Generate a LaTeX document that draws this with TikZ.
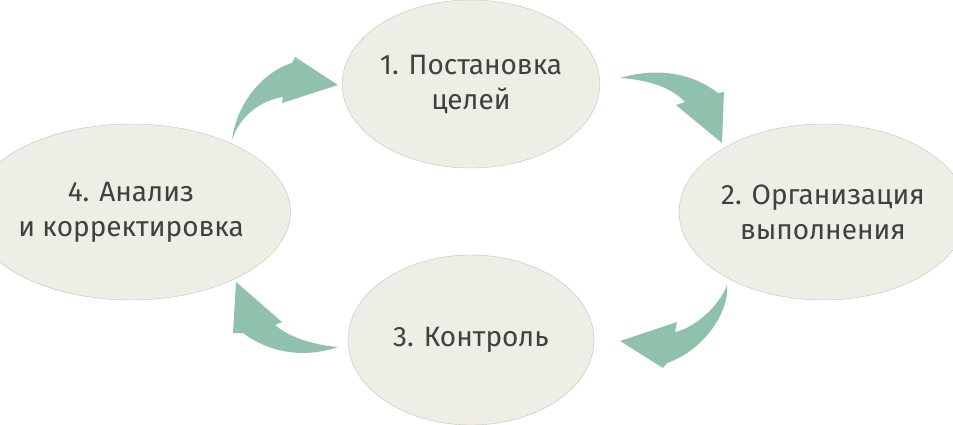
\documentclass[tikz,border=0pt]{standalone}
\usepackage{fontspec}
\setmainfont{Fira Sans}
\usetikzlibrary{shapes.geometric}
\definecolor{stagefill}{HTML}{EEEDE6}
\definecolor{stageline}{HTML}{C4C2BA}
\definecolor{arrowgreen}{HTML}{8FC1AD}
\tikzset{stage/.style={
		% The shape:
		ellipse,
		% The border:
		draw=stageline, fill=stagefill, thin,
		% The text:
		text=black!75, align=center, font=\fontsize{28}{35}\selectfont,
		inner sep=0pt,
}}
\tikzset{blockarrow/.style={fill=arrowgreen, draw=none}}

\begin{document}
\begin{tikzpicture}[x=1pt,y=-1pt]
	\useasboundingbox (0,0) rectangle (953,424);
	
	%% stages
	\node (goals) [stage,minimum width=246,minimum height=168] at (471,84) {1. Постановка\\целей};
	\node (org) [stage,minimum width=260,minimum height=176] at (823,212) {2. Организация\\выполнения};
	\node (ctrl) [stage,minimum width=246,minimum height=170] at (471,340) {3. Контроль};
	\node (anal) [stage,minimum width=262,minimum height=176] at (131,212) {4. Анализ\\и корректировка};
	
	%% arrows between stages
	\fill[blockarrow] (620,78) .. controls (660,66) and (695,75) .. (718,93) -- (724,92)
		-- (722,143) -- (676,105) -- (685,102) .. controls (672,88) and (650,80) .. (620,78) -- cycle;
	\fill[blockarrow] (727,285) .. controls (730,310) and (705,350) .. (667,363) -- (663,368)
		-- (620,341) -- (677,322) -- (675,332) .. controls (695,328) and (720,305) .. (727,285) -- cycle;
	\fill[blockarrow] (338,347) .. controls (300,360) and (265,350) .. (243,333) -- (233,333)
		-- (236,282) -- (282,322) -- (275,325) .. controls (290,338) and (315,345) .. (338,347) -- cycle;
	\fill[blockarrow] (232,140) .. controls (236,105) and (262,72) .. (292,63) -- (295,57)
		-- (338,85) -- (282,103) -- (283,97) .. controls (262,100) and (240,115) .. (232,140) -- cycle;
	
\end{tikzpicture}
\end{document}
